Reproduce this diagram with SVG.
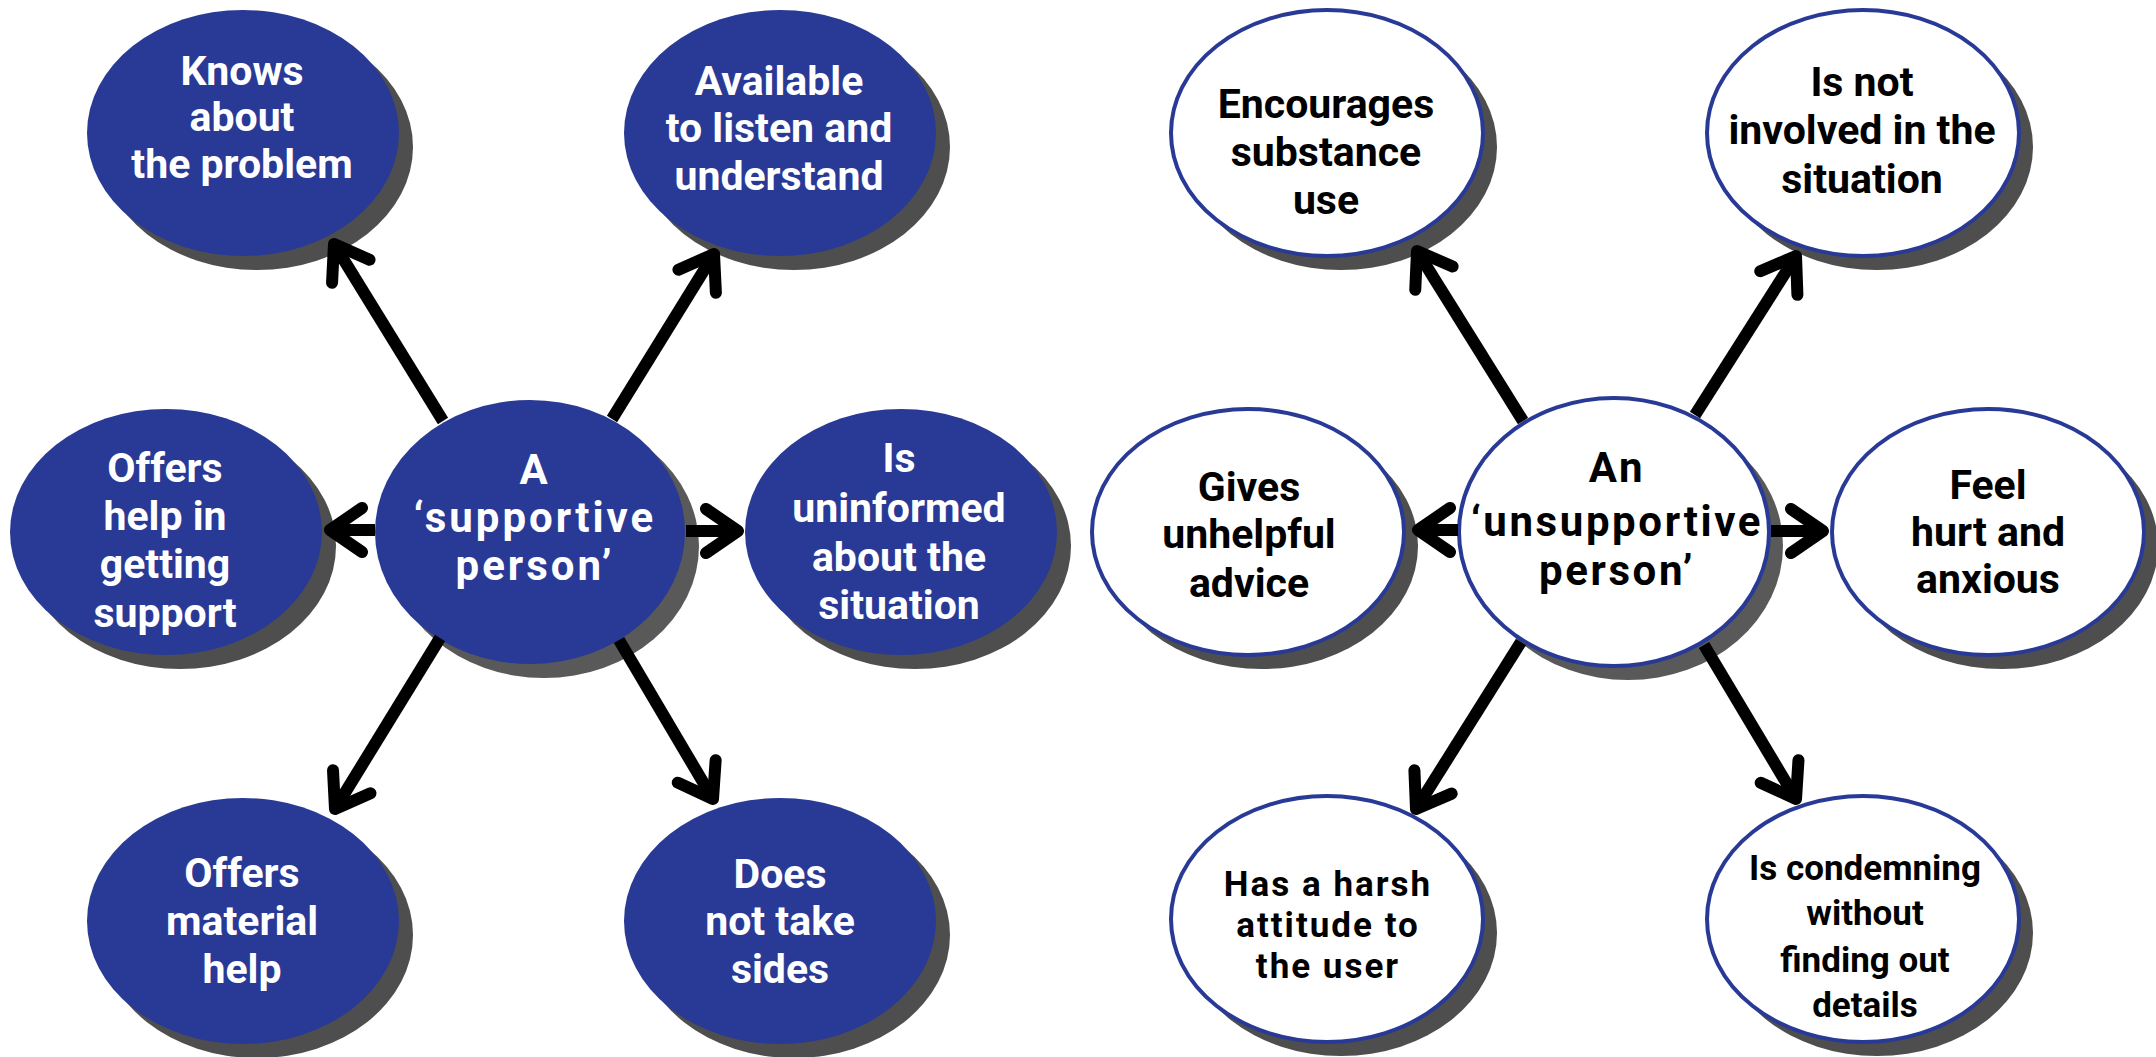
<svg xmlns="http://www.w3.org/2000/svg" width="2156" height="1057" viewBox="0 0 2156 1057">
<style>
.sh{fill:#4e4e4e}
.shc{fill:#595959}
.b{fill:#293a96}
.w{fill:#ffffff;stroke:#293a96;stroke-width:4}
text{font-family:Roboto,"Liberation Sans",sans-serif;font-weight:700;text-anchor:middle}
.tw{fill:#ffffff;font-size:41px}
.tk{fill:#000000;font-size:41px}
.sm{font-size:35px}
.hs{font-size:35px;letter-spacing:2px}
.cw{fill:#ffffff;font-size:42px;letter-spacing:3px}
.ck{fill:#000000;font-size:42px;letter-spacing:2.6px}
.conn{stroke:#000;stroke-width:12;fill:none;stroke-linecap:butt}
</style>
<defs>
<marker id="ah" markerUnits="userSpaceOnUse" orient="auto" refX="0" refY="0" markerWidth="80" markerHeight="80" viewBox="-50 -40 80 80" overflow="visible">
<path d="M -32 -22 L 0 0 L -32 22" fill="none" stroke="#000" stroke-width="12" stroke-linecap="round" stroke-linejoin="round"/>
</marker>
</defs>
<rect width="2156" height="1057" fill="#ffffff"/>

<g id="knows">
<ellipse class="sh" cx="257" cy="147" rx="156" ry="123"/>
<ellipse class="b" cx="243" cy="133" rx="156" ry="123"/>
<text class="tw" x="242" y="85">Knows</text>
<text class="tw" x="242" y="131">about</text>
<text class="tw" x="242" y="178">the problem</text>
</g>
<g id="available">
<ellipse class="sh" cx="794" cy="147" rx="156" ry="123"/>
<ellipse class="b" cx="780" cy="133" rx="156" ry="123"/>
<text class="tw" x="779" y="95">Available</text>
<text class="tw" x="779" y="142">to listen and</text>
<text class="tw" x="779" y="190">understand</text>
</g>
<g id="offers-help">
<ellipse class="sh" cx="180" cy="546" rx="156" ry="123"/>
<ellipse class="b" cx="166" cy="532" rx="156" ry="123"/>
<text class="tw" x="165" y="482">Offers</text>
<text class="tw" x="165" y="530">help in</text>
<text class="tw" x="165" y="578">getting</text>
<text class="tw" x="165" y="627">support</text>
</g>
<g id="uninformed">
<ellipse class="sh" cx="915" cy="546" rx="156" ry="123"/>
<ellipse class="b" cx="901" cy="532" rx="156" ry="123"/>
<text class="tw" x="899" y="472">Is</text>
<text class="tw" x="899" y="522">uninformed</text>
<text class="tw" x="899" y="571">about the</text>
<text class="tw" x="899" y="619">situation</text>
</g>
<g id="material">
<ellipse class="sh" cx="257" cy="935" rx="156" ry="123"/>
<ellipse class="b" cx="243" cy="921" rx="156" ry="123"/>
<text class="tw" x="242" y="887">Offers</text>
<text class="tw" x="242" y="935">material</text>
<text class="tw" x="242" y="983">help</text>
</g>
<g id="sides">
<ellipse class="sh" cx="794" cy="935" rx="156" ry="123"/>
<ellipse class="b" cx="780" cy="921" rx="156" ry="123"/>
<text class="tw" x="780" y="888">Does</text>
<text class="tw" x="780" y="935">not take</text>
<text class="tw" x="780" y="983">sides</text>
</g>
<g id="supportive">
<ellipse class="shc" cx="544" cy="546" rx="155" ry="132"/>
<ellipse class="b" cx="530" cy="532" rx="155" ry="132"/>
<text class="cw" x="535" y="484">A</text>
<text class="cw" x="535" y="532">‘supportive</text>
<text class="cw" x="535" y="580">person’</text>
</g>

<g id="encourages">
<ellipse class="sh" cx="1341" cy="147" rx="156" ry="123"/>
<ellipse class="w" cx="1327" cy="133" rx="156" ry="123"/>
<text class="tk" x="1326" y="118">Encourages</text>
<text class="tk" x="1326" y="166">substance</text>
<text class="tk" x="1326" y="214">use</text>
</g>
<g id="not-involved">
<ellipse class="sh" cx="1877" cy="147" rx="156" ry="123"/>
<ellipse class="w" cx="1863" cy="133" rx="156" ry="123"/>
<text class="tk" x="1862" y="96">Is not</text>
<text class="tk" x="1862" y="144">involved in the</text>
<text class="tk" x="1862" y="193">situation</text>
</g>
<g id="gives">
<ellipse class="sh" cx="1262" cy="546" rx="156" ry="123"/>
<ellipse class="w" cx="1248" cy="532" rx="156" ry="123"/>
<text class="tk" x="1249" y="501">Gives</text>
<text class="tk" x="1249" y="548">unhelpful</text>
<text class="tk" x="1249" y="597">advice</text>
</g>
<g id="feel">
<ellipse class="sh" cx="2002" cy="546" rx="156" ry="123"/>
<ellipse class="w" cx="1988" cy="532" rx="156" ry="123"/>
<text class="tk" x="1988" y="499">Feel</text>
<text class="tk" x="1988" y="546">hurt and</text>
<text class="tk" x="1988" y="593">anxious</text>
</g>
<g id="harsh">
<ellipse class="sh" cx="1341" cy="933" rx="156" ry="123"/>
<ellipse class="w" cx="1327" cy="919" rx="156" ry="123"/>
<text class="tk hs" x="1328" y="896">Has a harsh</text>
<text class="tk hs" x="1328" y="937">attitude to</text>
<text class="tk hs" x="1328" y="978">the user</text>
</g>
<g id="condemning">
<ellipse class="sh" cx="1877" cy="933" rx="156" ry="123"/>
<ellipse class="w" cx="1863" cy="919" rx="156" ry="123"/>
<text class="tk sm" x="1865" y="880">Is condemning</text>
<text class="tk sm" x="1865" y="925">without</text>
<text class="tk sm" x="1865" y="972">finding out</text>
<text class="tk sm" x="1865" y="1017">details</text>
</g>
<g id="unsupportive">
<ellipse class="shc" cx="1628" cy="546" rx="155" ry="134"/>
<ellipse class="w" cx="1614" cy="532" rx="155" ry="134"/>
<text class="ck" x="1617" y="482">An</text>
<text class="ck" x="1617" y="536">‘unsupportive</text>
<text class="ck" x="1617" y="585">person’</text>
</g>

<g id="connectors" class="conn" marker-end="url(#ah)">
<line x1="443" y1="421" x2="334" y2="244"/>
<line x1="612" y1="419" x2="714" y2="254"/>
<line x1="375" y1="530" x2="330" y2="530"/>
<line x1="686" y1="531" x2="738" y2="531"/>
<line x1="440" y1="638" x2="335" y2="809"/>
<line x1="619" y1="640" x2="713" y2="799"/>
<line x1="1523" y1="421" x2="1417" y2="251"/>
<line x1="1695" y1="415" x2="1796" y2="256"/>
<line x1="1458" y1="530" x2="1418" y2="530"/>
<line x1="1771" y1="531" x2="1823" y2="531"/>
<line x1="1521" y1="642" x2="1416" y2="809"/>
<line x1="1704" y1="645" x2="1796" y2="799"/>
</g>
</svg>
